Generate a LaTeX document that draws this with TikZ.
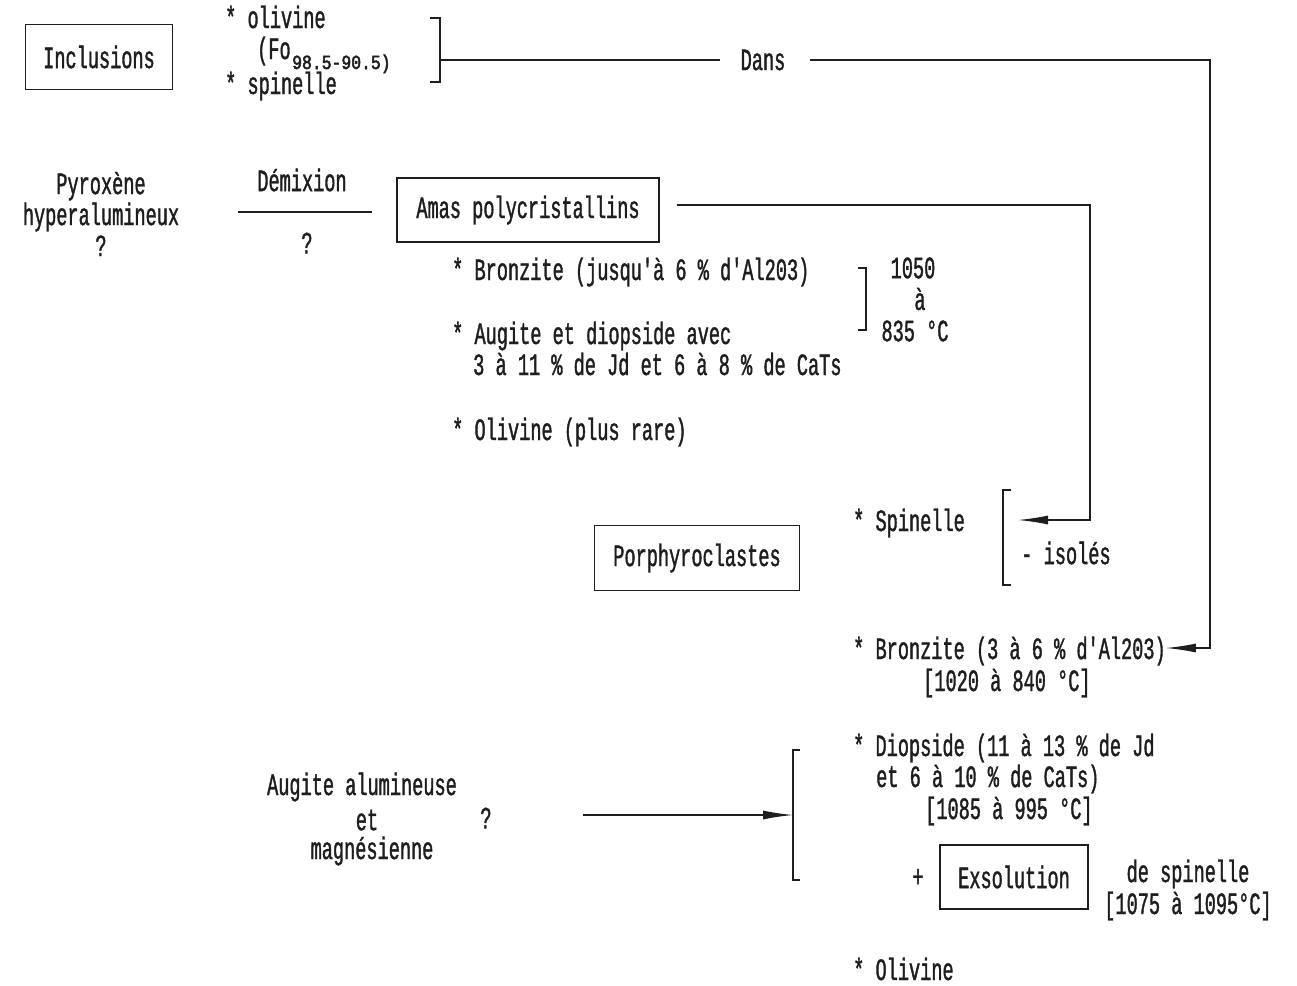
\documentclass[tikz,border=0pt]{standalone}
\usepackage{fontspec}
\usetikzlibrary{arrows.meta}
\newfontfamily\tw{Liberation Mono}[FakeStretch=0.6,FakeBold=1.2]
\newfontfamily\twsub{Liberation Mono}[FakeStretch=0.82,FakeBold=2.5]
\definecolor{ink}{HTML}{1E1E1E}
\tikzset{
  txt/.style={inner sep=0pt, text=ink, font={\fontsize{31}{31}\tw}},
  lt/.style={txt, anchor=base west},
  ct/.style={txt, anchor=center, align=center},
  boxn/.style={draw=ink, line width=1.4pt, inner sep=0pt, txt, anchor=center},
  ln/.style={draw=ink, line width=1.4pt},
  arr/.style={ln, -{Latex[length=30pt,width=9pt]}},
}
\begin{document}
\begin{tikzpicture}[x=1pt,y=-1pt]
\useasboundingbox[fill=white] (0,0) rectangle (1297,985);

% boxes
\node[boxn, minimum width=147pt, minimum height=65pt] (incl) at (99,57) {Inclusions};
\node[boxn, minimum width=262pt, minimum height=64pt] (amas) at (528,210) {Amas polycristallins};
\node[boxn, minimum width=205pt, minimum height=65pt] (porph) at (697,558) {Porphyroclastes};
\node[boxn, minimum width=148pt, minimum height=64pt] (exso) at (1014,877) {Exsolution};

% inclusions list
\node[lt] (oliv) at (225,28) {* olivine};
\node[lt] (fo) at (257,59) {(Fo};
\node[txt, anchor=base west, font={\fontsize{20}{20}\twsub}] (fosub) at (292,69) {98.5-90.5)};
\node[lt] (spin1) at (225,94) {* spinelle};
\coordinate (b1t) at (430,18);
\coordinate (b1b) at (430,82);
\coordinate (b1m) at (440,60);
\draw[ln] (b1t) -- ++(10,0) |- (b1b);
\node[ct] (dans) at (763,60) {Dans};

% pyroxene
\node[ct] (pyro) at (101,214) {Pyroxène\\hyperalumineux\\?};
\node[ct] (demix) at (302,180) {Démixion};
\node[ct] (q1) at (307,243) {?};
\coordinate (dl1) at (238,212);
\coordinate (dl2) at (372,212);
\draw[ln] (dl1) -- (dl2);

% amas list
\node[lt] (bz1) at (452,280) {* Bronzite (jusqu'à 6 \% d'Al203)};
\node[lt] (aug1) at (452,344) {* Augite et diopside avec};
\node[lt] (aug2) at (473,375) {3 à 11 \% de Jd et 6 à 8 \% de CaTs};
\node[lt] (ol2) at (452,440) {* Olivine (plus rare)};
\coordinate (b2t) at (858,268);
\coordinate (b2b) at (858,330);
\draw[ln] (b2t) -- ++(8,0) |- (b2b);
\node[ct] (t1050) at (913,268) {1050};
\node[ct] (ta) at (920,299) {à};
\node[ct] (t835) at (915,331) {835 °C};

% porphyroclastes list
\node[lt] (spin2) at (853,531) {* Spinelle};
\coordinate (b3t) at (1011,490);
\coordinate (b3b) at (1011,585);
\coordinate (b3a) at (1018,520);
\draw[ln] (b3t) -- ++(-8,0) |- (b3b);
\node[ct] (isol) at (1066,553) {- isolés};
\node[lt] (bz2) at (853,659) {* Bronzite (3 à 6 \% d'Al203)};
\node[lt] (bz2t) at (923,691) {[1020 à 840 °C]};
\node[lt] (dio1) at (853,756) {* Diopside (11 à 13 \% de Jd};
\node[lt] (dio2) at (876,787) {et 6 à 10 \% de CaTs)};
\node[lt] (dio3) at (925,819) {[1085 à 995 °C]};
\node[ct] (plus) at (918,878) {+};
\node[ct] (desp) at (1188,874) {de spinelle};
\node[ct] (desp2) at (1188,906) {[1075 à 1095°C]};
\node[lt] (ol3) at (853,980) {* Olivine};
\coordinate (b4t) at (800,750);
\coordinate (b4b) at (800,880);
\coordinate (b4m) at (793,815);
\draw[ln] (b4t) -- ++(-7,0) |- (b4b);

% augite
\node[ct] (augn1) at (362,787) {Augite alumineuse};
\node[ct] (augn2) at (367,820) {et};
\node[ct] (augn3) at (372,851) {magnésienne};
\node[ct] (q2) at (486,818) {?};
\coordinate (augs) at (583,815);

% connectors
\draw[ln] (b1m) -- (dans.west -| {(720,0)});
\coordinate (c1) at (1210,60);
\coordinate (c2) at (1210,648);
\draw[arr] (dans.east -| {(810,0)}) -- (c1) -- (c2) -- (bz2.east |- c2);
\coordinate (amas0) at (677,205);
\coordinate (c3) at (1090,205);
\coordinate (c4) at (1090,520);
\draw[arr] (amas0) -- (c3) -- (c4) -- (b3a);
\draw[arr] (augs) -- (b4m);
\end{tikzpicture}
\end{document}
